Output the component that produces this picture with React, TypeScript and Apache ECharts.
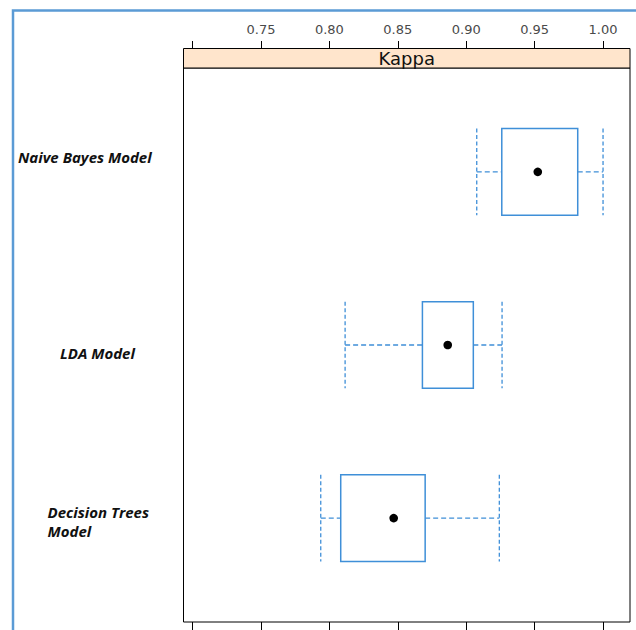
import { useEffect, useRef } from "react";
import * as echarts from "echarts";

// Kappa resampling summaries per model (row 1 = top panel row)
const models = ["Naive Bayes Model", "LDA Model", "Decision Trees\nModel"];
const rows = [1, 2, 3];
const kappaMin = [0.9077, 0.8115, 0.7937];
const kappaQ1 = [0.926, 0.868, 0.8083];
const kappaMedian = [0.9523, 0.8865, 0.847];
const kappaQ3 = [0.9815, 0.9052, 0.87];
const kappaMax = [1.0, 0.9262, 0.9242];

const tickValues = [0.7, 0.75, 0.8, 0.85, 0.9, 0.95, 1.0];
const labelValues = [0.75, 0.8, 0.85, 0.9, 0.95, 1.0];
const stripTitle = "Kappa";

const BOX_BLUE = "#3f8fd8";

export default function App() {
  const ref = useRef<HTMLDivElement>(null);

  useEffect(() => {
    if (!ref.current) return;
    const chart = echarts.init(ref.current, null, { renderer: "svg" });

    const data = rows.map((r, i) => [
      r,
      kappaMin[i],
      kappaQ1[i],
      kappaMedian[i],
      kappaQ3[i],
      kappaMax[i],
    ]);

    // panel geometry
    const gLeft = 183.5;
    const gRight = 6;
    const gTop = 68;
    const gBottom = 8;
    const panelRight = 636 - gRight;

    // row-label placement (left-aligned at x, vertically centred at y)
    const labelPos = [
      { x: 18, y: 157 },
      { x: 60, y: 353 },
      { x: 47.5, y: 521 },
    ];

    const xRange = { min: 0.6934, max: 1.0197 };

    chart.setOption({
      animation: false,
      backgroundColor: "#ffffff",
      grid: {
        left: gLeft,
        right: gRight,
        top: gTop,
        bottom: gBottom,
        show: true,
        borderColor: "#000",
        borderWidth: 1,
        backgroundColor: "transparent",
      },
      xAxis: [
        {
          type: "value",
          position: "top",
          offset: 20,
          ...xRange,
          axisLine: { show: false },
          splitLine: { show: false },
          axisTick: {
            show: true,
            inside: false,
            length: 7,
            customValues: tickValues,
            lineStyle: { color: "#000", width: 1 },
          },
          axisLabel: {
            show: true,
            margin: 12,
            customValues: labelValues,
            formatter: (v: number) => v.toFixed(2),
            fontFamily: "DejaVu Sans",
            fontSize: 13,
            color: "#4a4a4a",
          },
        },
        {
          type: "value",
          position: "bottom",
          ...xRange,
          axisLine: { show: false },
          splitLine: { show: false },
          axisTick: {
            show: true,
            inside: false,
            length: 8,
            customValues: tickValues,
            lineStyle: { color: "#000", width: 1 },
          },
          axisLabel: { show: false },
        },
      ],
      yAxis: {
        type: "value",
        min: 0.4,
        max: 3.6,
        inverse: true,
        show: false,
      },
      series: [
        {
          type: "custom",
          xAxisIndex: 0,
          yAxisIndex: 0,
          data,
          encode: { x: [1, 2, 3, 4, 5], y: 0 },
          renderItem: (_params: any, api: any) => {
            const row = api.value(0);
            const lo = api.coord([api.value(1), row]);
            const q1 = api.coord([api.value(2), row]);
            const md = api.coord([api.value(3), row]);
            const q3 = api.coord([api.value(4), row]);
            const hi = api.coord([api.value(5), row]);
            const half = api.size([0, 0.25])[1];
            const y = lo[1];
            const dash = { stroke: BOX_BLUE, lineWidth: 1.3, lineDash: [5, 3] };
            const capDash = { stroke: BOX_BLUE, lineWidth: 1.3, lineDash: [4, 2.5] };
            return {
              type: "group",
              children: [
                { type: "line", shape: { x1: lo[0], y1: y, x2: q1[0], y2: y }, style: dash },
                { type: "line", shape: { x1: q3[0], y1: y, x2: hi[0], y2: y }, style: dash },
                { type: "line", shape: { x1: lo[0], y1: y - half, x2: lo[0], y2: y + half }, style: capDash },
                { type: "line", shape: { x1: hi[0], y1: y - half, x2: hi[0], y2: y + half }, style: capDash },
                {
                  type: "rect",
                  shape: { x: q1[0], y: y - half, width: q3[0] - q1[0], height: 2 * half },
                  style: { fill: "#fff", stroke: BOX_BLUE, lineWidth: 1.5 },
                },
                {
                  type: "circle",
                  shape: { cx: md[0], cy: md[1], r: 4.3 },
                  style: { fill: "#000" },
                },
              ],
            };
          },
        },
      ],
      graphic: [
        // outer blue frame (top and left edges)
        {
          type: "polyline",
          shape: { points: [[13, 630], [13, 10.5], [636, 10.5]] },
          style: { stroke: "#5b9bd5", lineWidth: 2.5, fill: "none" },
          silent: true,
        },
        // strip above the panel
        {
          type: "rect",
          shape: { x: gLeft, y: 48.5, width: panelRight - gLeft, height: 19.5 },
          style: { fill: "#ffe5cc", stroke: "#000", lineWidth: 1 },
          silent: true,
        },
        {
          type: "text",
          x: (gLeft + panelRight) / 2,
          y: 58.5,
          style: {
            text: stripTitle,
            fontFamily: "DejaVu Sans",
            fontSize: 18,
            fill: "#111",
            textAlign: "center",
            textVerticalAlign: "middle",
          },
          silent: true,
        },
        ...models.map((m, i) => ({
          type: "text",
          x: labelPos[i].x,
          y: labelPos[i].y,
          style: {
            text: m,
            fontFamily: "Open Sans",
            fontWeight: "bold",
            fontStyle: "italic",
            fontSize: 15,
            lineHeight: 19,
            fill: "#111",
            textAlign: "left",
            textVerticalAlign: "middle",
          },
          silent: true,
        })),
      ],
    });

    return () => {
      chart.dispose();
    };
  }, []);

  return (
    <div
      ref={ref}
      style={{ position: "fixed", left: 0, top: 0, width: 636, height: 630 }}
    />
  );
}
